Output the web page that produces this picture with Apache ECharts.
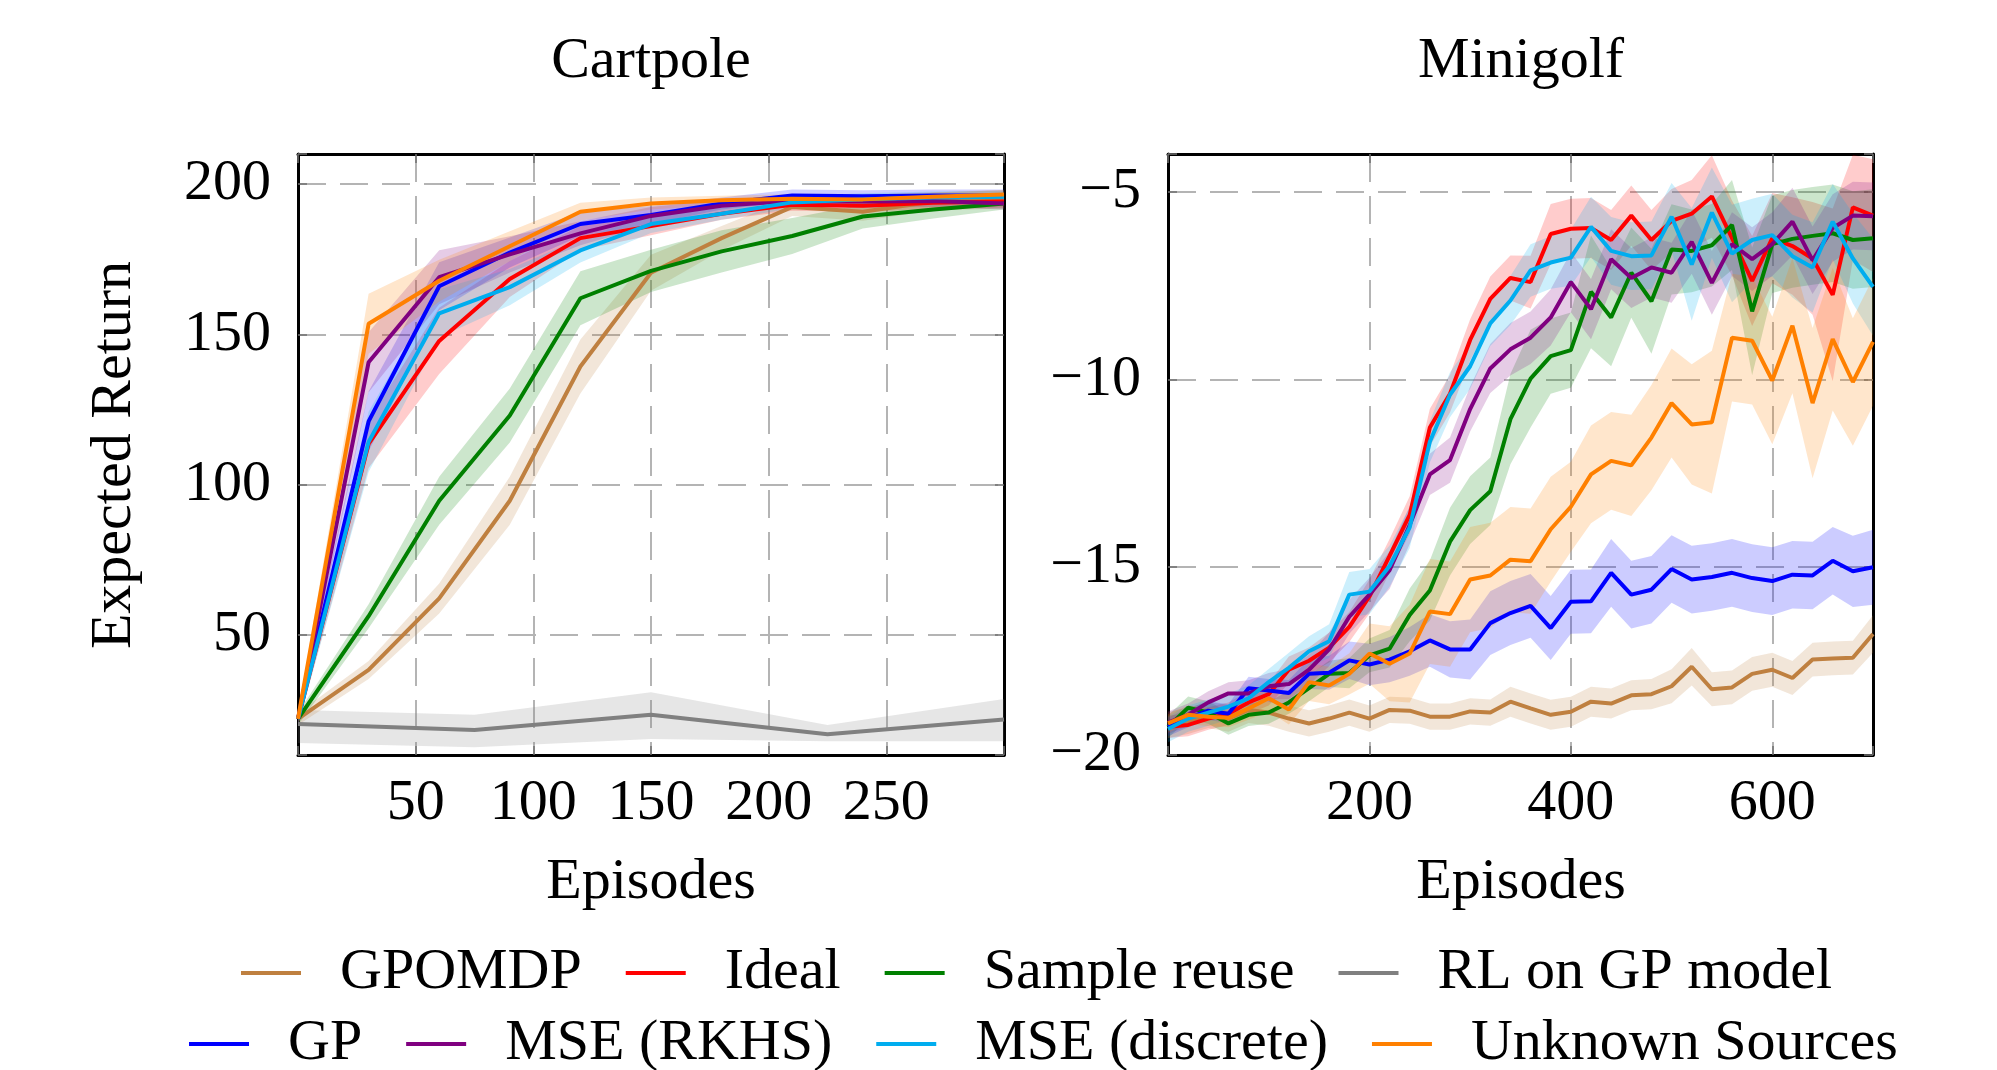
<!DOCTYPE html>
<html><head><meta charset="utf-8">
<script src="https://cdn.jsdelivr.net/npm/echarts@6/dist/echarts.min.js"></script>
<style>html,body{margin:0;padding:0;background:#fff;overflow:hidden}#c{width:1997px;height:1070px}</style>
</head><body><div id="c"></div><script>
// ---------------- Cartpole (left) ----------------
const cpX = [0, 30, 60, 90, 120, 150, 180, 210, 240, 270, 300];
const cpGpomdp = [22, 38.3, 62.1, 94.6, 139.3, 170.5, 182, 192.4, 190.8, 194.2, 194.9];
const cpGpomdpS = [2, 3, 5, 8, 9, 6, 4, 3, 3, 3, 3];
const cpIdeal = [22, 113.5, 147.8, 168.4, 182, 186, 190.1, 193.1, 192.8, 193.8, 194.2];
const cpIdealS = [2, 8, 11, 6, 4, 3, 2, 2, 2, 2, 2];
const cpReuse = [22, 56.2, 94.6, 123, 162, 171.1, 177.6, 182.7, 189.2, 191.5, 193.5];
const cpReuseS = [2, 4, 8, 9, 9, 7, 7, 6, 4, 3, 2];
const cpRlX = [0, 75, 150, 225, 300];
const cpRl = [20.3, 18.3, 23.4, 16.9, 21.8];
const cpRlLo = [14, 12.6, 15.3, 14.6, 14.6];
const cpRlHi = [25, 23.4, 30.9, 20, 28.6];
const cpGP = [22, 121, 166, 177.2, 186.7, 189.7, 193.5, 196.2, 195.9, 196.2, 196.2];
const cpGPS = [2, 10, 8, 5, 4, 3, 2, 2, 2, 2, 2];
const cpRkhs = [22, 140.7, 169, 176.6, 183.6, 189.4, 192.8, 194.4, 194.2, 194.4, 193.5];
const cpRkhsS = [2, 10, 9, 6, 4, 3, 2, 2, 2, 2, 2];
const cpDisc = [22, 114.2, 157, 165.7, 177.9, 186.7, 190.1, 193.9, 194.9, 195.5, 195.8];
const cpDiscS = [2, 10, 8, 6, 4, 3, 2, 2, 2, 2, 2];
const cpUnk = [22, 153.5, 167.8, 179.3, 190.8, 193.5, 194.6, 195.1, 194.9, 195.8, 196.5];
const cpUnkS = [2, 10, 7, 5, 3, 2, 1.5, 1.5, 1.5, 1.5, 1.5];

// ---------------- Minigolf (right) ----------------
const mgX = [0,20,40,60,80,100,120,140,160,180,200,220,240,260,280,300,320,340,360,380,400,420,440,460,480,500,520,540,560,580,600,620,640,660,680,700];
const mgGpomdp = [-19.20,-19.09,-18.93,-19.03,-18.80,-18.87,-19.03,-19.16,-19.03,-18.87,-19.03,-18.80,-18.82,-18.98,-18.98,-18.84,-18.87,-18.58,-18.76,-18.93,-18.85,-18.58,-18.63,-18.41,-18.38,-18.17,-17.65,-18.25,-18.20,-17.84,-17.73,-17.95,-17.46,-17.43,-17.41,-16.78];
const mgGpomdpS = [0.35,0.35,0.35,0.35,0.35,0.35,0.35,0.35,0.35,0.35,0.35,0.35,0.35,0.35,0.35,0.35,0.35,0.4,0.4,0.4,0.4,0.4,0.4,0.4,0.4,0.45,0.5,0.45,0.45,0.45,0.45,0.45,0.45,0.45,0.45,0.5];
const mgIdeal = [-19.25,-19.20,-19.03,-18.90,-18.60,-18.38,-17.73,-17.49,-17.14,-16.59,-15.78,-14.70,-13.61,-11.28,-10.38,-8.95,-7.86,-7.30,-7.41,-6.13,-5.99,-5.97,-6.29,-5.64,-6.29,-5.78,-5.59,-5.13,-6.24,-7.38,-6.24,-6.45,-6.78,-7.75,-5.42,-5.64];
const mgIdealS = [0.3,0.3,0.3,0.3,0.3,0.3,0.35,0.35,0.4,0.4,0.45,0.45,0.5,0.5,0.5,0.55,0.6,0.6,0.7,0.8,0.8,0.8,0.8,0.8,0.8,0.85,0.9,1.1,1.0,1.2,1.2,1.3,1.5,2.3,1.4,1.5];
const mgReuse = [-19.25,-18.74,-18.87,-19.16,-18.93,-18.87,-18.60,-18.22,-17.84,-17.82,-17.35,-17.17,-16.27,-15.62,-14.32,-13.48,-12.98,-11.06,-9.98,-9.38,-9.22,-7.67,-8.35,-7.16,-7.92,-6.54,-6.58,-6.43,-5.89,-8.19,-6.40,-6.26,-6.18,-6.11,-6.29,-6.24];
const mgReuseS = [0.3,0.3,0.3,0.3,0.3,0.3,0.3,0.35,0.35,0.4,0.45,0.5,0.7,0.8,0.9,0.9,0.9,1.2,1.3,1.0,1.0,1.5,1.3,1.2,1.4,1.2,1.1,1.1,1.2,1.7,1.3,1.3,1.3,1.3,1.3,1.3];
const mgGP = [-19.25,-19.01,-18.82,-18.90,-18.22,-18.28,-18.35,-17.84,-17.81,-17.48,-17.59,-17.46,-17.24,-16.95,-17.19,-17.19,-16.49,-16.22,-16.03,-16.62,-15.92,-15.91,-15.15,-15.73,-15.60,-15.05,-15.33,-15.26,-15.15,-15.29,-15.37,-15.20,-15.22,-14.83,-15.11,-15.00];
const mgGPS = [0.25,0.25,0.25,0.25,0.3,0.3,0.35,0.4,0.45,0.5,0.55,0.6,0.65,0.7,0.75,0.8,0.85,0.85,0.85,0.85,0.85,0.85,0.9,0.9,0.9,0.9,0.9,0.9,0.9,0.9,0.9,0.9,0.9,0.9,0.95,1.0];
const mgRkhs = [-19.14,-18.93,-18.60,-18.36,-18.36,-18.17,-18.11,-17.73,-17.19,-16.32,-15.73,-15.08,-13.88,-12.53,-12.15,-10.79,-9.71,-9.20,-8.89,-8.35,-7.41,-8.13,-6.80,-7.30,-7.02,-7.16,-6.34,-7.43,-6.40,-6.80,-6.40,-5.80,-6.83,-5.97,-5.64,-5.66];
const mgRkhsS = [0.3,0.3,0.3,0.3,0.35,0.35,0.4,0.4,0.45,0.45,0.45,0.5,0.5,0.55,0.6,0.6,0.65,0.7,0.7,0.75,0.8,0.8,0.8,0.8,0.8,0.8,0.85,0.85,0.85,0.85,0.85,0.9,0.9,0.9,0.9,0.9];
const mgDisc = [-19.31,-19.03,-18.87,-18.71,-18.49,-18.06,-17.68,-17.24,-16.97,-15.73,-15.65,-14.97,-13.94,-11.66,-10.41,-9.65,-8.51,-7.90,-7.10,-6.89,-6.76,-5.94,-6.58,-6.72,-6.70,-5.67,-6.94,-5.56,-6.65,-6.29,-6.16,-6.72,-7.02,-5.80,-6.78,-7.54];
const mgDiscS = [0.35,0.35,0.35,0.35,0.35,0.35,0.4,0.4,0.45,0.6,0.6,0.55,0.55,0.55,0.6,0.6,0.6,0.65,0.7,0.7,0.75,0.8,0.9,0.9,0.9,0.9,1.5,1.2,1.3,1.1,1.1,1.1,1.2,1.0,1.2,1.3];
const mgUnk = [-19.16,-18.93,-18.98,-19.01,-18.76,-18.49,-18.79,-18.06,-18.15,-17.84,-17.30,-17.57,-17.30,-16.18,-16.25,-15.33,-15.22,-14.80,-14.84,-13.99,-13.39,-12.53,-12.17,-12.29,-11.55,-10.63,-11.20,-11.14,-8.89,-8.97,-10.03,-8.57,-10.63,-8.93,-10.07,-9.00];
const mgUnkS = [0.25,0.25,0.25,0.25,0.3,0.35,0.4,0.5,0.5,0.55,0.8,1.0,1.3,1.4,1.4,1.4,1.4,1.4,1.4,1.4,1.2,1.3,1.3,1.35,1.4,1.45,1.6,1.9,1.7,1.7,1.7,1.8,2.0,1.9,1.7,1.7];

// ---------------- legend / styles ----------------
const names = ['GPOMDP', 'Ideal', 'Sample reuse', 'RL on GP model', 'GP', 'MSE (RKHS)', 'MSE (discrete)', 'Unknown Sources'];
const legendRow1 = names.slice(0, 4);
const legendRow2 = names.slice(4);
const colors = {
  'GPOMDP': '#bf8040', 'Ideal': '#ff0000', 'Sample reuse': '#008000', 'RL on GP model': '#808080',
  'GP': '#0000ff', 'MSE (RKHS)': '#800080', 'MSE (discrete)': '#00adef', 'Unknown Sources': '#ff8000'
};
function rgba(hex, a) {
  const n = parseInt(hex.slice(1), 16);
  return 'rgba(' + ((n >> 16) & 255) + ',' + ((n >> 8) & 255) + ',' + (n & 255) + ',' + a + ')';
}
const FONT = '"Liberation Serif", "Times New Roman", serif';
const FS = 58;

function lineSeries(name, xs, ys, xi, yi) {
  const c = colors[name];
  return { type: 'line', name, xAxisIndex: xi, yAxisIndex: yi, data: xs.map((x, i) => [x, ys[i]]),
    symbol: 'none', showSymbol: false, z: 3, clip: true, silent: true,
    lineStyle: { color: c, width: 4 }, itemStyle: { color: c } };
}
function bandSeries(name, xs, lo, hi, xi, yi) {
  const data = xs.map((x, i) => [x, lo[i], hi[i]]);
  const fill = rgba(colors[name], 0.2);
  return { type: 'custom', name: name + ' band', xAxisIndex: xi, yAxisIndex: yi, z: 1, silent: true, clip: true,
    data, encode: { x: 0, y: [1, 2] },
    renderItem(params, api) {
      if (params.dataIndex !== 0) return null;
      const top = data.map(d => api.coord([d[0], d[2]]));
      const bot = data.map(d => api.coord([d[0], d[1]])).reverse();
      return { type: 'polygon', shape: { points: top.concat(bot) }, style: { fill } };
    } };
}
function sym(ys, s, sign) { return ys.map((v, i) => v + sign * s[i]); }

const tickStyle = { inside: true, length: 9, lineStyle: { color: '#707070', width: 1.5 } };
const borderStyle = { onZero: false, lineStyle: { color: '#000', width: 3 } };
const gridLine = { show: true, lineStyle: { color: '#b4b4b4', width: 2, type: [28, 14] } };
const labelBase = { color: '#000', fontSize: FS, fontFamily: FONT };

function axisPair(kind, gi, min, max, interval, fmt, margin, pad) {
  const main = { type: 'value', gridIndex: gi, position: kind === 'x' ? 'bottom' : 'left', min, max,
    axisLine: borderStyle, axisTick: tickStyle, splitLine: gridLine,
    axisLabel: Object.assign({ margin, formatter: fmt, showMinLabel: true, showMaxLabel: true, padding: pad }, labelBase) };
  const other = { type: 'value', gridIndex: gi, position: kind === 'x' ? 'top' : 'right', min, max,
    axisLine: borderStyle, axisTick: tickStyle, splitLine: { show: false }, axisLabel: { show: false } };
  if (interval) { main.interval = interval; other.interval = interval; }
  return [main, other];
}
const minus = v => (v < 0 ? '\u2212' + Math.abs(v) : String(v));

const xAxes = [].concat(
  axisPair('x', 0, 0, 300, 50, v => (v > 0 && v < 300 ? String(v) : ''), 20, 0),
  axisPair('x', 1, 0, 700, 200, v => (v > 0 && v < 700 && v % 200 === 0 ? String(v) : ''), 20, 0)
);
const yAxes = [].concat(
  axisPair('y', 0, 10, 210, null, v => (v % 50 === 0 ? String(v) : ''), 27, [6, 0, 0, 0]),
  axisPair('y', 1, -20, -4, 5, v => (v % 5 === 0 ? minus(v) : ''), 27, [6, 0, 0, 0])
);

const series = [];
const cpSets = [
  ['GPOMDP', cpGpomdp, cpGpomdpS], ['Ideal', cpIdeal, cpIdealS], ['Sample reuse', cpReuse, cpReuseS],
  ['GP', cpGP, cpGPS], ['MSE (RKHS)', cpRkhs, cpRkhsS], ['MSE (discrete)', cpDisc, cpDiscS], ['Unknown Sources', cpUnk, cpUnkS]
];
series.push(bandSeries('RL on GP model', cpRlX, cpRlLo, cpRlHi, 0, 0));
cpSets.forEach(([n, y, s]) => series.push(bandSeries(n, cpX, sym(y, s, -1), sym(y, s, 1), 0, 0)));
cpSets.slice(0, 3).forEach(([n, y]) => series.push(lineSeries(n, cpX, y, 0, 0)));
series.push(lineSeries('RL on GP model', cpRlX, cpRl, 0, 0));
cpSets.slice(3).forEach(([n, y]) => series.push(lineSeries(n, cpX, y, 0, 0)));
const mgSets = [
  ['GPOMDP', mgGpomdp, mgGpomdpS], ['Ideal', mgIdeal, mgIdealS], ['Sample reuse', mgReuse, mgReuseS],
  ['GP', mgGP, mgGPS], ['MSE (RKHS)', mgRkhs, mgRkhsS], ['MSE (discrete)', mgDisc, mgDiscS], ['Unknown Sources', mgUnk, mgUnkS]
];
mgSets.forEach(([n, y, s]) => series.push(bandSeries(n, mgX, sym(y, s, -1), sym(y, s, 1), 2, 2)));
mgSets.forEach(([n, y]) => series.push(lineSeries(n, mgX, y, 2, 2)));

const legendBase = {
  icon: 'rect', itemWidth: 60, itemHeight: 4, itemGap: 44, padding: 0, orient: 'horizontal', selectedMode: false,
  textStyle: { fontSize: FS, fontFamily: FONT, color: '#000', padding: [0, 0, 0, 34], lineHeight: 50 }
};
function txt(text, x, y, rot) {
  return { type: 'text', x, y, rotation: rot || 0, silent: true,
    style: { text, x: 0, y: 0, fill: '#000', fontSize: FS, fontFamily: FONT,
      align: 'center', verticalAlign: 'middle', textAlign: 'center', textVerticalAlign: 'middle' } };
}

const chart = echarts.init(document.getElementById('c'), null, { renderer: 'canvas' });
chart.setOption({
  animation: false,
  backgroundColor: '#ffffff',
  grid: [
    { left: 298, top: 154, width: 706, height: 601, outerBoundsMode: 'none', containLabel: false },
    { left: 1168, top: 154, width: 705, height: 601, outerBoundsMode: 'none', containLabel: false }
  ],
  xAxis: xAxes,
  yAxis: yAxes,
  legend: [
    Object.assign({}, legendBase, { data: legendRow1, left: 241, top: 944 }),
    Object.assign({}, legendBase, { data: legendRow2, left: 189, top: 1015 })
  ],
  graphic: [
    txt('Cartpole', 651, 62), txt('Minigolf', 1521, 62),
    txt('Episodes', 651, 883), txt('Episodes', 1521, 883),
    txt('Expected Return', 115, 455, Math.PI / 2)
  ],
  series
});
</script></body></html>
